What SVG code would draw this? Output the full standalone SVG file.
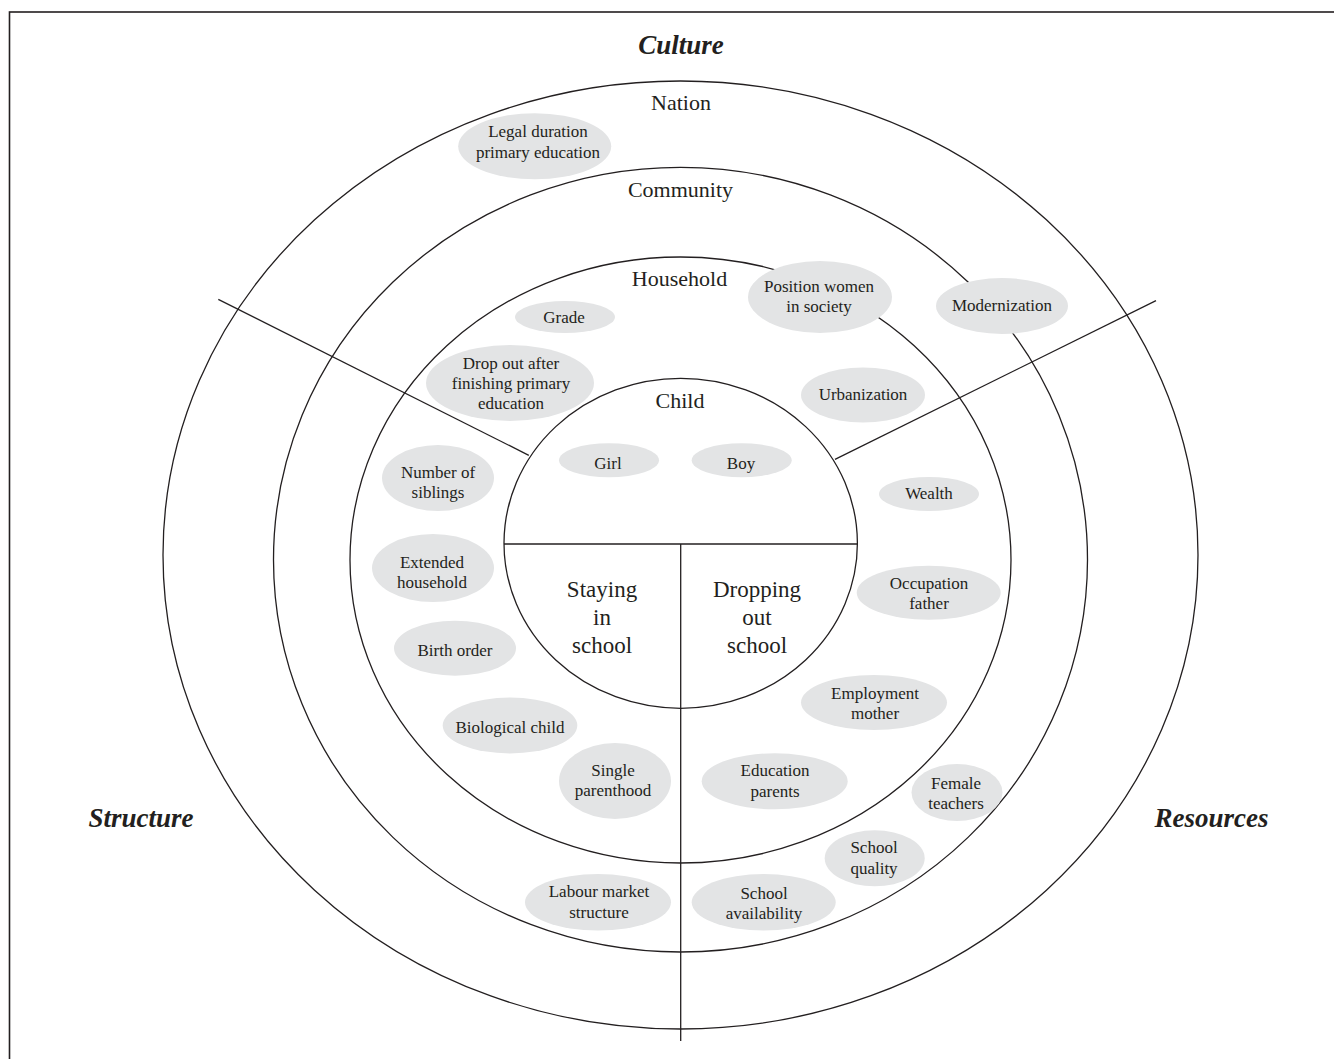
<svg xmlns="http://www.w3.org/2000/svg" width="1334" height="1059" viewBox="0 0 1334 1059">
<style>
.ring{fill:none;stroke:#231f20;stroke-width:1.3}
.ln{stroke:#231f20;stroke-width:1.3;fill:none}
.lab{fill:#e3e4e5;stroke:none}
.t{font-family:"Liberation Serif","Times New Roman",serif;font-size:17px;fill:#231f20;text-anchor:middle}
.big{font-family:"Liberation Serif","Times New Roman",serif;font-size:22px;fill:#231f20;text-anchor:middle}
.mid{font-family:"Liberation Serif","Times New Roman",serif;font-size:23px;fill:#231f20;text-anchor:middle}
.dim{font-family:"Liberation Serif","Times New Roman",serif;font-size:27px;font-weight:bold;font-style:italic;fill:#231f20;text-anchor:middle}
</style>
<rect x="0" y="0" width="1334" height="1059" fill="#ffffff"/>
<rect x="9.5" y="12" width="1400" height="1100" fill="none" stroke="#231f20" stroke-width="1.6"/>

<g id="rings">
<ellipse id="nation-ring" class="ring" cx="680.5" cy="555" rx="517.5" ry="474"/>
<ellipse id="community-ring" class="ring" cx="680.5" cy="559.7" rx="407" ry="392.3"/>
<ellipse id="household-ring" class="ring" cx="680.5" cy="560" rx="330.5" ry="303"/>
<ellipse id="child-ring" class="ring" cx="680.7" cy="543.3" rx="176.7" ry="165"/>
</g>

<g id="connectors">
<line class="ln" x1="218.3" y1="299.3" x2="528.8" y2="455.3"/>
<line class="ln" x1="835" y1="459.3" x2="1156" y2="300.7"/>
<line class="ln" x1="504" y1="544" x2="857.4" y2="544"/>
<line class="ln" x1="680.7" y1="544" x2="680.7" y2="1041"/>
</g>

<g id="dimensions">
<text class="dim" x="681" y="54">Culture</text>
<text class="dim" x="141" y="827">Structure</text>
<text class="dim" x="1211.5" y="827">Resources</text>
</g>

<g id="level-labels">
<text class="big" x="681" y="110">Nation</text>
<text class="big" x="680.5" y="197">Community</text>
<text class="big" x="679.5" y="286">Household</text>
<text class="big" x="680" y="408">Child</text>
</g>

<g id="outcome-staying">
<text class="mid" x="602" y="597">Staying</text>
<text class="mid" x="602" y="625">in</text>
<text class="mid" x="602" y="653">school</text>
</g>
<g id="outcome-dropping">
<text class="mid" x="757" y="597">Dropping</text>
<text class="mid" x="757" y="625">out</text>
<text class="mid" x="757" y="653">school</text>
</g>

<g id="legal-duration">
<ellipse class="lab" cx="534.7" cy="146.3" rx="76.5" ry="33"/>
<text class="t" x="538" y="137">Legal duration</text>
<text class="t" x="538" y="158">primary education</text>
</g>
<g id="position-women">
<ellipse class="lab" cx="820" cy="297" rx="72" ry="36"/>
<text class="t" x="819" y="292">Position women</text>
<text class="t" x="819" y="312">in society</text>
</g>
<g id="modernization">
<ellipse class="lab" cx="1002" cy="306" rx="66" ry="28"/>
<text class="t" x="1002" y="311">Modernization</text>
</g>
<g id="grade">
<ellipse class="lab" cx="565" cy="317" rx="50" ry="16"/>
<text class="t" x="564" y="323">Grade</text>
</g>
<g id="drop-out-after">
<ellipse class="lab" cx="510" cy="383" rx="84" ry="38"/>
<text class="t" x="511" y="369">Drop out after</text>
<text class="t" x="511" y="389">finishing primary</text>
<text class="t" x="511" y="409">education</text>
</g>
<g id="urbanization">
<ellipse class="lab" cx="863" cy="395" rx="62" ry="27.5"/>
<text class="t" x="863" y="400">Urbanization</text>
</g>
<g id="girl">
<ellipse class="lab" cx="609" cy="460.3" rx="50" ry="17"/>
<text class="t" x="608" y="469">Girl</text>
</g>
<g id="boy">
<ellipse class="lab" cx="741.7" cy="460.3" rx="50" ry="17"/>
<text class="t" x="741" y="469">Boy</text>
</g>
<g id="wealth">
<ellipse class="lab" cx="929" cy="494" rx="50" ry="17"/>
<text class="t" x="929" y="499">Wealth</text>
</g>
<g id="number-of-siblings">
<ellipse class="lab" cx="438" cy="478" rx="56" ry="33"/>
<text class="t" x="438" y="478">Number of</text>
<text class="t" x="438" y="498">siblings</text>
</g>
<g id="extended-household">
<ellipse class="lab" cx="433" cy="568" rx="61" ry="34"/>
<text class="t" x="432" y="568">Extended</text>
<text class="t" x="432" y="588">household</text>
</g>
<g id="birth-order">
<ellipse class="lab" cx="455" cy="648.2" rx="61" ry="27.5"/>
<text class="t" x="455" y="656">Birth order</text>
</g>
<g id="biological-child">
<ellipse class="lab" cx="510" cy="725.5" rx="67.3" ry="28"/>
<text class="t" x="510" y="733">Biological child</text>
</g>
<g id="single-parenthood">
<ellipse class="lab" cx="615" cy="781" rx="56" ry="38"/>
<text class="t" x="613" y="776">Single</text>
<text class="t" x="613" y="796">parenthood</text>
</g>
<g id="occupation-father">
<ellipse class="lab" cx="928.7" cy="592.7" rx="72" ry="27"/>
<text class="t" x="929" y="589">Occupation</text>
<text class="t" x="929" y="609">father</text>
</g>
<g id="employment-mother">
<ellipse class="lab" cx="874" cy="702.5" rx="73" ry="27.5"/>
<text class="t" x="875" y="699">Employment</text>
<text class="t" x="875" y="719">mother</text>
</g>
<g id="education-parents">
<ellipse class="lab" cx="774.7" cy="781.3" rx="73" ry="28"/>
<text class="t" x="775" y="776">Education</text>
<text class="t" x="775" y="797">parents</text>
</g>
<g id="female-teachers">
<ellipse class="lab" cx="957" cy="792.5" rx="45.5" ry="28.5"/>
<text class="t" x="956" y="789">Female</text>
<text class="t" x="956" y="809">teachers</text>
</g>
<g id="school-quality">
<ellipse class="lab" cx="874.7" cy="858.3" rx="50" ry="28"/>
<text class="t" x="874" y="853">School</text>
<text class="t" x="874" y="874">quality</text>
</g>
<g id="school-availability">
<ellipse class="lab" cx="763.7" cy="902.3" rx="72" ry="28.3"/>
<text class="t" x="764" y="899">School</text>
<text class="t" x="764" y="919">availability</text>
</g>
<g id="labour-market">
<ellipse class="lab" cx="598" cy="902.3" rx="73" ry="28.3"/>
<text class="t" x="599" y="897">Labour market</text>
<text class="t" x="599" y="918">structure</text>
</g>
</svg>
